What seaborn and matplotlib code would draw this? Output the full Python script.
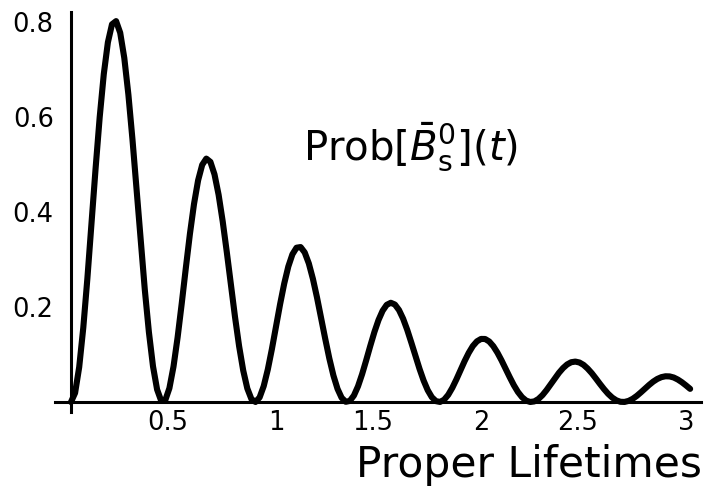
import matplotlib
matplotlib.use("Agg")
import matplotlib.pyplot as plt
import matplotlib.transforms as mtransforms
import seaborn as sns
import pandas as pd

# Proper time (in lifetimes) and oscillation probability
time = [
    0.00, 0.02, 0.04, 0.06, 0.08, 0.10, 0.12, 0.14, 0.16, 0.18,
    0.20, 0.22, 0.24, 0.26, 0.28, 0.30, 0.32, 0.34, 0.36, 0.38,
    0.40, 0.42, 0.44, 0.46, 0.48, 0.50, 0.52, 0.54, 0.56, 0.58,
    0.60, 0.62, 0.64, 0.66, 0.68, 0.70, 0.72, 0.74, 0.76, 0.78,
    0.80, 0.82, 0.84, 0.86, 0.88, 0.90, 0.92, 0.94, 0.96, 0.98,
    1.00, 1.02, 1.04, 1.06, 1.08, 1.10, 1.12, 1.14, 1.16, 1.18,
    1.20, 1.22, 1.24, 1.26, 1.28, 1.30, 1.32, 1.34, 1.36, 1.38,
    1.40, 1.42, 1.44, 1.46, 1.48, 1.50, 1.52, 1.54, 1.56, 1.58,
    1.60, 1.62, 1.64, 1.66, 1.68, 1.70, 1.72, 1.74, 1.76, 1.78,
    1.80, 1.82, 1.84, 1.86, 1.88, 1.90, 1.92, 1.94, 1.96, 1.98,
    2.00, 2.02, 2.04, 2.06, 2.08, 2.10, 2.12, 2.14, 2.16, 2.18,
    2.20, 2.22, 2.24, 2.26, 2.28, 2.30, 2.32, 2.34, 2.36, 2.38,
    2.40, 2.42, 2.44, 2.46, 2.48, 2.50, 2.52, 2.54, 2.56, 2.58,
    2.60, 2.62, 2.64, 2.66, 2.68, 2.70, 2.72, 2.74, 2.76, 2.78,
    2.80, 2.82, 2.84, 2.86, 2.88, 2.90, 2.92, 2.94, 2.96, 2.98,
    3.00, 3.02,
]
prob = [
    0.0000, 0.0191, 0.0734, 0.1566, 0.2605, 0.3755, 0.4918, 0.5996, 0.6904, 0.7572,
    0.7951, 0.8018, 0.7773, 0.7242, 0.6470, 0.5520, 0.4468, 0.3393, 0.2366, 0.1472,
    0.0752, 0.0263, 0.0024, 0.0039, 0.0291, 0.0746, 0.1359, 0.2069, 0.2816, 0.3536,
    0.4167, 0.4666, 0.4993, 0.5124, 0.5055, 0.4792, 0.4363, 0.3802, 0.3155, 0.2468,
    0.1792, 0.1176, 0.0665, 0.0286, 0.0063, 0.0001, 0.0097, 0.0334, 0.0685, 0.1116,
    0.1587, 0.2060, 0.2492, 0.2852, 0.3109, 0.3248, 0.3262, 0.3148, 0.2918, 0.2593,
    0.2200, 0.1769, 0.1333, 0.0919, 0.0559, 0.0278, 0.0090, 0.0005, 0.0023, 0.0137,
    0.0331, 0.0587, 0.0880, 0.1184, 0.1474, 0.1726, 0.1921, 0.2046, 0.2089, 0.2052,
    0.1936, 0.1754, 0.1520, 0.1252, 0.0972, 0.0699, 0.0452, 0.0249, 0.0102, 0.0019,
    0.0002, 0.0048, 0.0151, 0.0299, 0.0477, 0.0670, 0.0862, 0.1035, 0.1178, 0.1277,
    0.1328, 0.1327, 0.1274, 0.1175, 0.1039, 0.0877, 0.0700, 0.0523, 0.0355, 0.0212,
    0.0102, 0.0030, 0.0001, 0.0013, 0.0064, 0.0146, 0.0253, 0.0374, 0.0497, 0.0614,
    0.0714, 0.0791, 0.0838, 0.0851, 0.0832, 0.0782, 0.0704, 0.0608, 0.0497, 0.0382,
    0.0272, 0.0173, 0.0093, 0.0036, 0.0005, 0.0002, 0.0024, 0.0068, 0.0130, 0.0204,
    0.0283, 0.0360, 0.0430, 0.0486, 0.0524, 0.0542, 0.0539, 0.0516, 0.0473, 0.0416,
    0.0349, 0.0277,
]

x_ticks = [0.5, 1, 1.5, 2, 2.5, 3]
x_tick_labels = ["0.5", "1", "1.5", "2", "2.5", "3"]
y_ticks = [0.2, 0.4, 0.6, 0.8]
y_tick_labels = ["0.2", "0.4", "0.6", "0.8"]
curve_label = r"Prob[$\bar{B}^{0}_{\mathrm{s}}$]($t$)"
x_label = "Proper Lifetimes"

sns.set_style("white")
plt.rcParams["font.family"] = ["DejaVu Sans"]
plt.rcParams["mathtext.fontset"] = "dejavusans"

W, H = 706, 492
fig = plt.figure(figsize=(W / 100, H / 100), dpi=100)
ax = fig.add_axes([55 / W, 1 - 412 / H, (701 - 55) / W, (412 - 12) / H])

df = pd.DataFrame({"t": time, "p": prob})
sns.lineplot(data=df, x="t", y="p", ax=ax, color="black", linewidth=4.4,
             solid_joinstyle="round", solid_capstyle="round")

ax.set_xlim(-0.078, 3.073)
ax.set_ylim(-0.021, 0.821)

# Axes cross at the origin
for side in ["top", "right"]:
    ax.spines[side].set_visible(False)
ax.spines["left"].set_position(("data", 0))
ax.spines["bottom"].set_position(("data", 0))
for side in ["left", "bottom"]:
    ax.spines[side].set_linewidth(2.2)
    ax.spines[side].set_color("black")

ax.set_xticks(x_ticks)
ax.set_xticklabels(x_tick_labels)
ax.set_yticks(y_ticks)
ax.set_yticklabels(y_tick_labels)
ax.tick_params(axis="y", direction="in", length=4, width=1.5, pad=12.5,
               labelsize=18.5, colors="black")
ax.tick_params(axis="x", direction="in", length=3, width=1.5, pad=5.5,
               labelsize=18.5, colors="black")

# Decimal labels sit a little to the left of their ticks
for lbl in ax.get_xticklabels():
    if "." in lbl.get_text():
        lbl.set_transform(lbl.get_transform() +
                          mtransforms.ScaledTranslation(-6 / 100, 0, fig.dpi_scale_trans))

ax.set_xlabel("")
ax.set_ylabel("")

ax.text(1.13, 0.509, curve_label, fontsize=29, ha="left", va="baseline",
        color="black")
fig.text(702 / W, 1 - 477 / H, x_label, fontsize=30.5, ha="right",
         va="baseline", color="black")

fig.savefig("out.png", dpi=100)
